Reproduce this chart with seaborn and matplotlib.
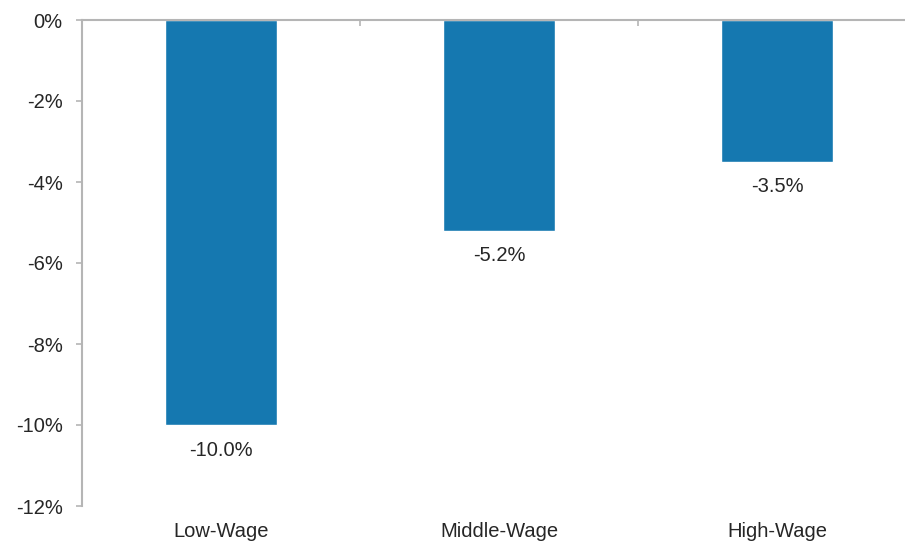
import matplotlib
matplotlib.use("Agg")
import matplotlib.pyplot as plt
import seaborn as sns
import pandas as pd
from matplotlib.ticker import FuncFormatter, FixedLocator

categories = ["Low-Wage", "Middle-Wage", "High-Wage"]
values = [-10.0, -5.2, -3.5]
y_ticks = [0, -2, -4, -6, -8, -10, -12]

sns.set_style("white")
plt.rcParams['font.family'] = ['Liberation Sans', 'DejaVu Sans']

df = pd.DataFrame({"category": categories, "value": values})

fig = plt.figure(figsize=(9.05, 5.42), dpi=100)
ax = fig.add_axes([82/905, 1-506/542, (916-82)/905, (506-20)/542])

sns.barplot(data=df, x="category", y="value", color="#1578b0", width=0.4,
            saturation=1, ax=ax)

ax.set_ylim(-12, 0)
ax.set_xlim(-0.5, 2.5)
ax.yaxis.set_major_locator(FixedLocator(y_ticks))
ax.yaxis.set_major_formatter(FuncFormatter(lambda v, p: f"{v:.0f}%" if v != 0 else "0%"))
ax.set_xlabel("")
ax.set_ylabel("")

for s in ["right", "bottom"]:
    ax.spines[s].set_visible(False)
for s in ["left", "top"]:
    ax.spines[s].set_color("#b5b5b5")
    ax.spines[s].set_linewidth(1.5)

FS = 14.5
ax.tick_params(axis='y', left=True, length=4, width=1.2, color="#b5b5b5",
               pad=10, labelsize=FS, labelcolor="#262626")
ax.tick_params(axis='x', which='major', bottom=False, top=False, labelbottom=True,
               pad=8, labelsize=FS, labelcolor="#262626")
ax.xaxis.set_minor_locator(FixedLocator([0.5, 1.5]))
ax.tick_params(axis='x', which='minor', top=True, bottom=False, direction='in',
               length=4, width=1.2, color="#b5b5b5")

for i, v in enumerate(values):
    ax.annotate(f"{v:.1f}%", xy=(i, v), xytext=(0, -18), textcoords="offset points",
                ha="center", va="center", fontsize=FS, color="#262626")

fig.savefig("out.png", dpi=100)
